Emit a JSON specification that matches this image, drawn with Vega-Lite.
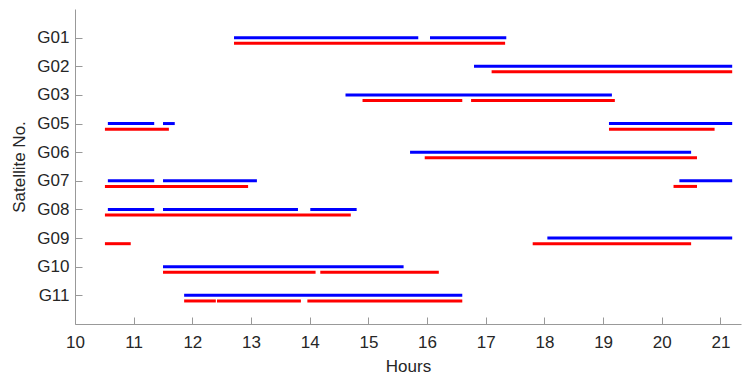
{
  "$schema": "https://vega.github.io/schema/vega-lite/v6.json",
  "autosize": "none",
  "width": 666,
  "height": 315,
  "padding": {"left": 75, "top": 9, "right": 4, "bottom": 54},
  "background": "white",
  "config": {
    "view": {"stroke": null},
    "font": "Liberation Sans",
    "axis": {
      "domainColor": "#999999",
      "tickColor": "#999999",
      "grid": false,
      "labelFont": "Liberation Sans",
      "titleFont": "Liberation Sans",
      "labelFontSize": 17,
      "titleFontSize": 17,
      "labelColor": "#262626",
      "titleColor": "#262626",
      "titleFontWeight": "normal",
      "tickSize": -7
    }
  },
  "data": {
    "values": [
      {"sat": "G01", "series": "blue", "start": 12.71, "end": 15.85},
      {"sat": "G01", "series": "blue", "start": 16.05, "end": 17.35},
      {"sat": "G01", "series": "red", "start": 12.71, "end": 17.33},
      {"sat": "G02", "series": "blue", "start": 16.80, "end": 21.20},
      {"sat": "G02", "series": "red", "start": 17.10, "end": 21.20},
      {"sat": "G03", "series": "blue", "start": 14.61, "end": 19.15},
      {"sat": "G03", "series": "red", "start": 14.90, "end": 16.60},
      {"sat": "G03", "series": "red", "start": 16.75, "end": 19.20},
      {"sat": "G05", "series": "blue", "start": 10.56, "end": 11.35},
      {"sat": "G05", "series": "blue", "start": 11.50, "end": 11.70},
      {"sat": "G05", "series": "blue", "start": 19.10, "end": 21.20},
      {"sat": "G05", "series": "red", "start": 10.51, "end": 11.60},
      {"sat": "G05", "series": "red", "start": 19.10, "end": 20.90},
      {"sat": "G06", "series": "blue", "start": 15.71, "end": 20.50},
      {"sat": "G06", "series": "red", "start": 15.96, "end": 20.60},
      {"sat": "G07", "series": "blue", "start": 10.56, "end": 11.35},
      {"sat": "G07", "series": "blue", "start": 11.50, "end": 13.10},
      {"sat": "G07", "series": "blue", "start": 20.30, "end": 21.20},
      {"sat": "G07", "series": "red", "start": 10.51, "end": 12.95},
      {"sat": "G07", "series": "red", "start": 20.20, "end": 20.60},
      {"sat": "G08", "series": "blue", "start": 10.56, "end": 11.35},
      {"sat": "G08", "series": "blue", "start": 11.50, "end": 13.80},
      {"sat": "G08", "series": "blue", "start": 14.01, "end": 14.80},
      {"sat": "G08", "series": "red", "start": 10.51, "end": 14.70},
      {"sat": "G09", "series": "blue", "start": 18.05, "end": 21.20},
      {"sat": "G09", "series": "red", "start": 10.51, "end": 10.95},
      {"sat": "G09", "series": "red", "start": 17.80, "end": 20.50},
      {"sat": "G10", "series": "blue", "start": 11.50, "end": 15.60},
      {"sat": "G10", "series": "red", "start": 11.50, "end": 14.10},
      {"sat": "G10", "series": "red", "start": 14.18, "end": 16.20},
      {"sat": "G11", "series": "blue", "start": 11.86, "end": 16.60},
      {"sat": "G11", "series": "red", "start": 11.86, "end": 12.40},
      {"sat": "G11", "series": "red", "start": 12.42, "end": 13.85},
      {"sat": "G11", "series": "red", "start": 13.96, "end": 16.60}
    ]
  },
  "encoding": {
    "x": {
      "field": "start", "type": "quantitative",
      "scale": {"domain": [10, 21.35], "nice": false, "zero": false},
      "axis": {"title": "Hours", "values": [10,11,12,13,14,15,16,17,18,19,20,21], "format": "d", "labelPadding": 17, "titlePadding": 8, "labelFlush": false}
    },
    "x2": {"field": "end"},
    "y": {
      "field": "sat", "type": "ordinal",
      "scale": {"type": "point", "padding": 1, "domain": ["G01","G02","G03","G05","G06","G07","G08","G09","G10","G11"]},
      "axis": {"title": "Satellite No.", "labelPadding": 13, "titlePadding": 8}
    },
    "color": {
      "field": "series", "type": "nominal",
      "scale": {"domain": ["blue", "red"], "range": ["#0000FF", "#FF0000"]},
      "legend": null
    }
  },
  "layer": [
    {
      "transform": [{"filter": "datum.series === 'blue'"}],
      "mark": {"type": "rule", "strokeWidth": 3, "strokeCap": "butt"}
    },
    {
      "transform": [{"filter": "datum.series === 'red'"}],
      "mark": {"type": "rule", "strokeWidth": 3, "strokeCap": "butt", "yOffset": 5.6}
    }
  ]
}
